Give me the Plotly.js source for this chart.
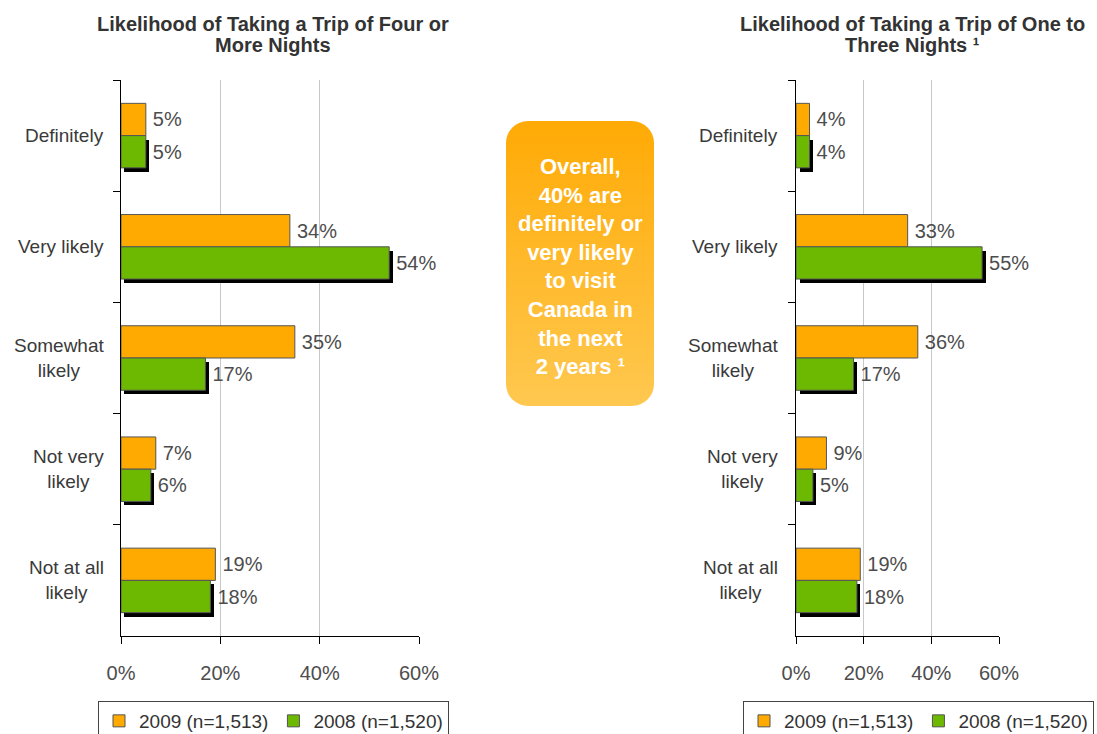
<!DOCTYPE html>
<html>
<head>
<meta charset="utf-8">
<script src="https://cdn.plot.ly/plotly-3.0.1.min.js"></script>
<style>html,body{margin:0;padding:0;background:#fff;}#chart{width:1097px;height:734px;}</style>
</head>
<body>
<div id="chart"></div>
<script>
// ---- data ----
const categories = ['Definitely', 'Very likely', 'Somewhat likely', 'Not very likely', 'Not at all likely'];
const categoryLabels = ['Definitely', 'Very likely', 'Somewhat<br>likely', 'Not very<br>likely', 'Not at all<br>likely'];
const fourPlus2009 = [5, 34, 35, 7, 19];
const fourPlus2008 = [5, 54, 17, 6, 18];
const oneToThree2009 = [4, 33, 36, 9, 19];
const oneToThree2008 = [4, 55, 17, 5, 18];
const seriesNames = ['2009 (n=1,513)', '2008 (n=1,520)'];
const xTickVals = [0, 20, 40, 60];
const xTickText = ['0%', '20%', '40%', '60%'];
const titleLeft = ['Likelihood of Taking a Trip of Four or', 'More Nights'];
const titleRight = ['Likelihood of Taking a Trip of One to', 'Three Nights ¹'];
const calloutText = 'Overall,<br>40% are<br>definitely or<br>very likely<br>to visit<br>Canada in<br>the next<br>2 years ¹';

// ---- styling ----
const W = 1097, H = 734;
const FONT = 'Liberation Sans, Arial, sans-serif';
const ORANGE = '#FFAA00', GREEN = '#6DB800', EDGE = '#555555';
const LABEL = '#4d4d4d';
const BW = 0.29;      // bar thickness (category units)
const SH_DY = 0.036;  // shadow vertical shift (category units)

function px(x) { return x / W; }
function py(y) { return 1 - y / H; }

function chartTraces(v2009, v2008, xa, ya, legendId, shadowDx) {
  const common = {type: 'bar', orientation: 'h', y: categories, xaxis: xa, yaxis: ya, legend: legendId,
                  cliponaxis: false, constraintext: 'none', hoverinfo: 'skip'};
  return [
    Object.assign({}, common, {
      name: seriesNames[0], x: v2009, width: BW, offset: -BW,
      marker: {color: ORANGE, line: {color: EDGE, width: 1}},
      text: v2009.map(v => '\u2009' + v + '%'), textposition: 'outside',
      textfont: {family: FONT, size: 20, color: LABEL}
    }),
    Object.assign({}, common, {
      name: 'shadow', x: v2008, base: shadowDx, width: BW, offset: SH_DY,
      marker: {color: '#000', line: {width: 0}}, showlegend: false
    }),
    Object.assign({}, common, {
      name: seriesNames[1], x: v2008, width: BW, offset: 0,
      marker: {color: GREEN, line: {color: EDGE, width: 1}},
      text: v2008.map(v => '\u2009' + v + '%'), textposition: 'outside',
      textfont: {family: FONT, size: 20, color: LABEL}
    })
  ];
}

const data = [].concat(
  chartTraces(fourPlus2009, fourPlus2008, 'x', 'y', 'legend', 0.7),
  chartTraces(oneToThree2009, oneToThree2008, 'x2', 'y2', 'legend2', 1.05)
);

function xAxis(domain, anchor) {
  return {
    domain: domain, anchor: anchor, range: [0, 60], tickvals: xTickVals, ticktext: xTickText,
    showgrid: true, gridcolor: '#c8c8c8', gridwidth: 1, zeroline: false,
    showline: true, linecolor: '#000', linewidth: 1,
    ticks: 'outside', ticklen: 7, tickcolor: '#000', ticklabelstandoff: 12,
    tickfont: {family: FONT, size: 20, color: LABEL}, fixedrange: true
  };
}
function yAxis(anchor) {
  return {
    domain: [py(636), py(80)], anchor: anchor, type: 'category', categoryarray: categories,
    autorange: 'reversed', range: [4.5, -0.5], showticklabels: false,
    showline: true, linecolor: '#000', linewidth: 1, showgrid: false, zeroline: false,
    ticks: 'outside', tickson: 'boundaries', ticklen: 7, tickcolor: '#000', fixedrange: true
  };
}

const annotations = [];
// titles (one annotation per line to control leading)
[[titleLeft, 273], [titleRight, 912]].forEach(([lines, cx]) => {
  lines.forEach((ln, j) => {
    annotations.push({xref: 'paper', yref: 'paper', x: px(cx), y: py(24 + j * 21), xanchor: 'center', yanchor: 'middle',
      text: '<b>' + ln + '</b>', showarrow: false, font: {family: FONT, size: 20, color: '#333'}});
  });
});
// category labels
[['y', 106], ['y2', 780]].forEach(([ya, right]) => {
  categories.forEach((c, i) => {
    annotations.push({xref: 'paper', yref: ya, x: px(right), y: c, xanchor: 'right', yanchor: 'middle',
      text: categoryLabels[i], showarrow: false, align: 'center',
      font: {family: FONT, size: 19, color: '#3a3a3a'}});
  });
});
// callout text
annotations.push({xref: 'paper', yref: 'paper', x: px(580), y: py(266), xanchor: 'center', yanchor: 'middle',
  text: '<b>' + calloutText + '</b>', showarrow: false, align: 'center', font: {family: FONT, size: 22, color: '#fff'}});

const svgBox = '<svg xmlns="http://www.w3.org/2000/svg" width="148" height="285" viewBox="0 0 148 285">' +
  '<defs><linearGradient id="g" x1="0" y1="0" x2="0" y2="1">' +
  '<stop offset="0" stop-color="#FFAA05"/><stop offset="1" stop-color="#FFC850"/></linearGradient></defs>' +
  '<rect x="0" y="0" width="148" height="285" rx="22" ry="22" fill="url(#g)"/></svg>';

const legendCommon = {orientation: 'h', xanchor: 'left', yanchor: 'top',
  bordercolor: '#444', borderwidth: 1, font: {family: FONT, size: 19, color: '#333'},
  itemwidth: 30, tracegroupgap: 0, traceorder: 'normal'};

const layout = {
  width: W, height: H,
  margin: {l: 0, r: 0, t: 0, b: 0, autoexpand: false},
  paper_bgcolor: '#fff', plot_bgcolor: '#fff',
  barmode: 'overlay', bargap: 0,
  font: {family: FONT, size: 19, color: LABEL},
  xaxis: xAxis([px(121), px(419)], 'y'),
  yaxis: yAxis('x'),
  xaxis2: xAxis([px(796), px(999)], 'y2'),
  yaxis2: yAxis('x2'),
  legend: Object.assign({}, legendCommon, {x: px(98), y: py(701)}),
  legend2: Object.assign({}, legendCommon, {x: px(743), y: py(701)}),
  annotations: annotations,
  images: [{source: 'data:image/svg+xml;charset=utf-8,' + encodeURIComponent(svgBox),
    xref: 'paper', yref: 'paper', x: px(506), y: py(121), sizex: 148 / W, sizey: 285 / H,
    xanchor: 'left', yanchor: 'top', sizing: 'stretch', layer: 'below'}],
  showlegend: true
};

Plotly.newPlot('chart', data, layout, {displayModeBar: false, staticPlot: true});
</script>
</body>
</html>
